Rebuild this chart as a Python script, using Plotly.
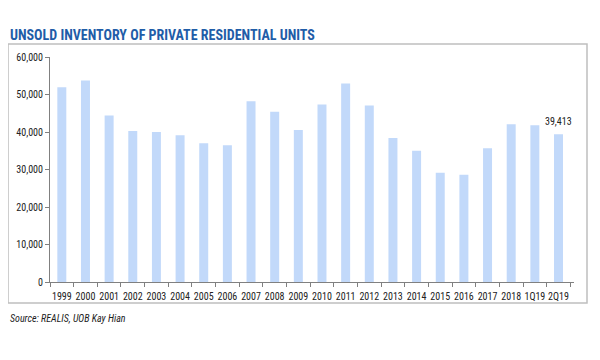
import plotly.graph_objects as go

categories = ["1999", "2000", "2001", "2002", "2003", "2004", "2005", "2006", "2007", "2008",
              "2009", "2010", "2011", "2012", "2013", "2014", "2015", "2016", "2017", "2018",
              "1Q19", "2Q19"]
units = [51950, 53740, 44380, 40290, 40020, 39130, 36980, 36450, 48210, 45370,
         40550, 47330, 52940, 47060, 38420, 35030, 29150, 28610, 35650, 42060,
         41800, 39413]
y_ticks = [0, 10000, 20000, 30000, 40000, 50000, 60000]

FONT = "Liberation Sans Narrow, Arial Narrow, Roboto Condensed, Liberation Sans, Arial, sans-serif"

fig = go.Figure()
fig.add_trace(go.Bar(
    x=categories, y=units,
    marker=dict(color="#C2D9FA", line=dict(width=0)),
))

# page body has an 8px margin; work in screen coordinates and convert
OFF = 8
W, H = 600 - OFF, 360 - OFF
PL, PR, PT, PB = 50, 574, 57, 282  # plot area in screen pixels
L, R, T, B = PL - OFF, W - (PR - OFF), PT - OFF, H - (PB - OFF)
pw, ph = W - L - R, H - T - B

def px(x):
    return (x - PL) / pw

def py(y):
    return (PB - y) / ph

fig.update_layout(
    width=W, height=H,
    margin=dict(l=L, r=R, t=T, b=B, autoexpand=False),
    plot_bgcolor="white", paper_bgcolor="white",
    bargap=0.62,
    showlegend=False,
    font=dict(family=FONT, size=10, color="#222222"),
    xaxis=dict(
        showgrid=False, showline=True, linecolor="#808080", linewidth=1,
        ticks="outside", ticklen=4, tickcolor="#808080", tickson="boundaries",
        tickangle=0, automargin=False, ticklabelstandoff=5,
        tickfont=dict(size=10, family=FONT), fixedrange=True,
    ),
    yaxis=dict(
        range=[0, 60000], tickvals=y_ticks, tickformat=",",
        showgrid=False, showline=True, linecolor="#808080", linewidth=1,
        ticks="outside", ticklen=4, tickcolor="#808080", automargin=False,
        tickfont=dict(size=10, family=FONT), zeroline=False, fixedrange=True,
    ),
    shapes=[dict(type="rect", xref="paper", yref="paper",
                 x0=px(8), x1=px(587), y0=py(303), y1=py(44),
                 line=dict(color="#BFBFBF", width=1.5), fillcolor="rgba(0,0,0,0)", layer="below")],
    annotations=[
        dict(text="<b>UNSOLD INVENTORY OF PRIVATE RESIDENTIAL UNITS</b>", xref="paper", yref="paper",
             x=px(8), y=py(35), xanchor="left", yanchor="middle", showarrow=False,
             font=dict(family=FONT, size=14, color="#1F5DA8")),
        dict(text="<i>Source: REALIS, UOB Kay Hian</i>", xref="paper", yref="paper",
             x=px(8), y=py(318), xanchor="left", yanchor="middle", showarrow=False,
             font=dict(family=FONT, size=10, color="#222222")),
        dict(text=f"{units[-1]:,}", x=categories[-1], y=units[-1], xref="x", yref="y",
             xanchor="center", yanchor="bottom", yshift=5, showarrow=False,
             font=dict(family=FONT, size=10, color="#222222")),
    ],
)

fig.write_html("out.html")
